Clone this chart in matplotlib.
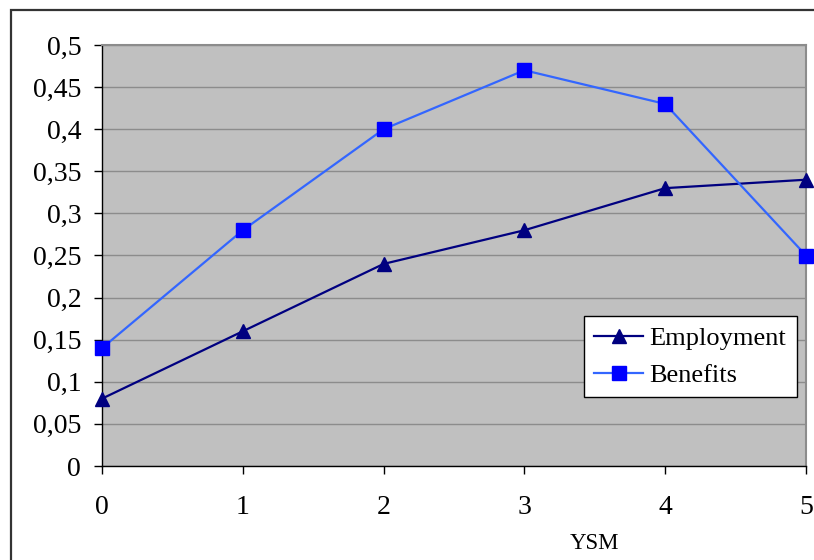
import matplotlib
matplotlib.use('Agg')
import matplotlib.pyplot as plt
from matplotlib.ticker import FuncFormatter, MultipleLocator
from matplotlib.patches import Rectangle

ysm = [0, 1, 2, 3, 4, 5]
employment = [0.08, 0.16, 0.24, 0.28, 0.33, 0.34]
benefits = [0.14, 0.28, 0.40, 0.47, 0.43, 0.25]

plt.rcParams['font.family'] = ['Liberation Serif', 'DejaVu Serif']

fig = plt.figure(figsize=(8.14, 5.6), dpi=100)
# outer chart border (cut off at right and bottom)
fig.patches.append(Rectangle((11 / 814, -0.05), 1.0, 1 - 10 / 560 + 0.05,
                             transform=fig.transFigure, fill=False,
                             edgecolor='#333333', linewidth=1.6))

ax = fig.add_axes([102 / 814, 1 - 466 / 560, 704 / 814, 421 / 560])
ax.set_facecolor('#c0c0c0')

ax.plot(ysm, employment, color='#000080', marker='^', markersize=10,
        linewidth=1.6, label='Employment', clip_on=False, zorder=3)
ax.plot(ysm, benefits, color='#3366ff', marker='s', markersize=9.5,
        markerfacecolor='#0000ff', markeredgecolor='#0000ff',
        linewidth=1.6, label='Benefits', clip_on=False, zorder=3)

ax.set_xlim(0, 5)
ax.set_ylim(0, 0.5)
ax.yaxis.set_major_locator(MultipleLocator(0.05))
ax.xaxis.set_major_locator(MultipleLocator(1))
ax.yaxis.set_major_formatter(FuncFormatter(lambda v, p: ('%g' % round(v, 2)).replace('.', ',')))
ax.grid(axis='y', color='#8c8c8c', linewidth=1)
ax.set_axisbelow(True)

for s in ['top', 'right']:
    ax.spines[s].set_color('#8c8c8c')
    ax.spines[s].set_linewidth(1.5)
for s in ['left', 'bottom']:
    ax.spines[s].set_color('black')
    ax.spines[s].set_linewidth(1)

ax.tick_params(axis='both', direction='out', length=6, width=1, labelsize=20)
ax.tick_params(axis='x', pad=15)
ax.tick_params(axis='y', pad=9)

ax.set_xlabel('YSM', fontsize=16.5)
ax.xaxis.set_label_coords((594 - 102) / 704, -0.16)

leg = ax.legend(loc='upper right', bbox_to_anchor=(0.987, 0.356), fontsize=19,
                frameon=True, fancybox=False, edgecolor='black', facecolor='white',
                framealpha=1, borderpad=0.4, handlelength=1.85, labelspacing=0.5,
                handletextpad=0.25, borderaxespad=0)
leg.get_frame().set_linewidth(1)

fig.savefig('out.png', dpi=100)
